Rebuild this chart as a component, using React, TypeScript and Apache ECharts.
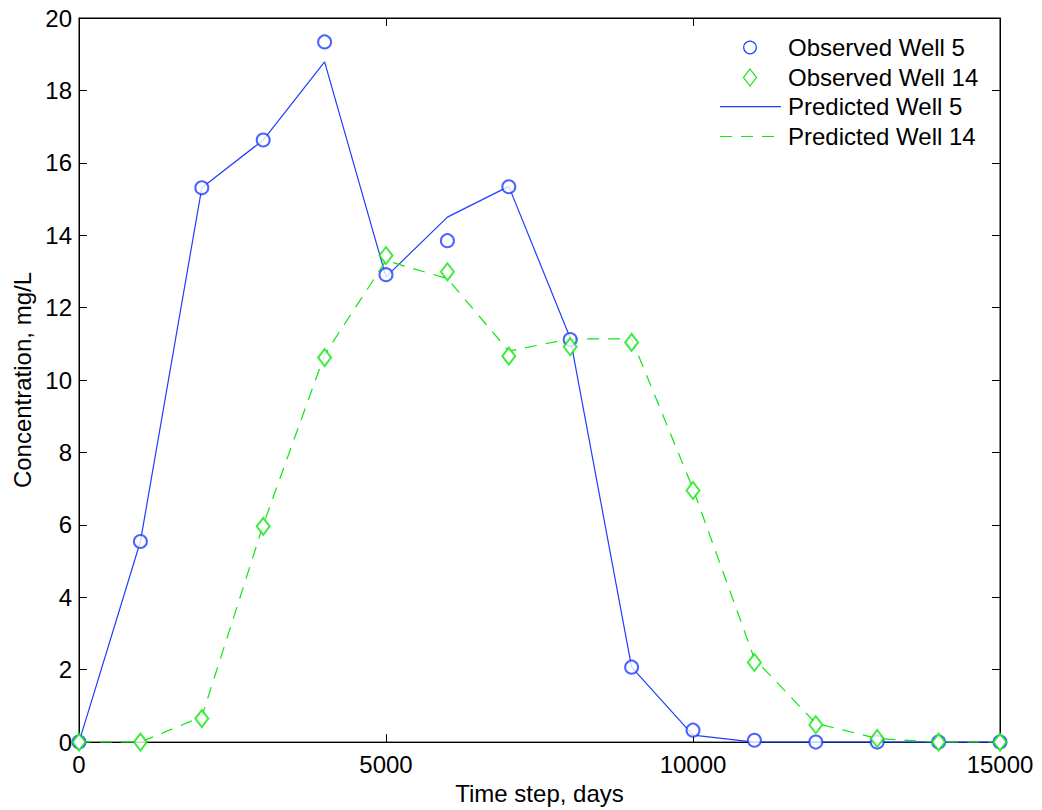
import React, { useEffect, useRef } from "react";
import * as echarts from "echarts";

const timeSteps = [0, 1000, 2000, 3000, 4000, 5000, 6000, 7000, 8000, 9000, 10000, 11000, 12000, 13000, 14000, 15000];
const observedWell5 = [0, 5.54, 15.31, 16.63, 19.34, 12.91, 13.85, 15.34, 11.12, 2.07, 0.33, 0.05, 0, 0, 0, 0];
const observedWell14 = [0, 0, 0.65, 5.96, 10.62, 13.44, 12.99, 10.66, 10.92, 11.04, 6.95, 2.2, 0.48, 0.1, 0, 0];
const predictedWell5 = [0, 5.54, 15.31, 16.63, 18.79, 12.85, 14.5, 15.35, 11.16, 2.07, 0.19, 0, 0, 0, 0, 0];
const predictedWell14 = [0, 0, 0.7, 6.0, 10.7, 13.3, 12.8, 10.8, 11.14, 11.14, 7.0, 2.3, 0.52, 0.1, 0, 0];
const xTicks = [0, 5000, 10000, 15000];
const yTicks = [0, 2, 4, 6, 8, 10, 12, 14, 16, 18, 20];
const legendLabels = ["Observed Well 5", "Observed Well 14", "Predicted Well 5", "Predicted Well 14"];

const BLUE = "#1f3dff";
const GREEN = "#10e610";
const FONT = "Liberation Sans";
const FS = 24;
const DASH = [12, 9];

const pairs = (ys: number[]) => timeSteps.map((x, i) => [x, ys[i]]);

export default function App() {
  const ref = useRef<HTMLDivElement>(null);
  useEffect(() => {
    if (!ref.current) return;
    const chart = echarts.init(ref.current, null, { renderer: "svg" });
    const tickStyle = { show: true, inside: true, length: 8, lineStyle: { color: "#000", width: 1 } };
    const rowY = [47.5, 77.5, 106.7, 136.5];
    const legendX = 720;
    const textX = 788;
    const legendGraphics: any[] = [
      {
        type: "circle",
        shape: { cx: legendX + 30, cy: rowY[0], r: 6.3 },
        style: { fill: "none", stroke: BLUE, lineWidth: 1.2 },
      },
      {
        type: "polygon",
        shape: {
          points: [
            [legendX + 30, rowY[1] - 8.5],
            [legendX + 36.5, rowY[1]],
            [legendX + 30, rowY[1] + 8.5],
            [legendX + 23.5, rowY[1]],
          ],
        },
        style: { fill: "none", stroke: GREEN, lineWidth: 1.2 },
      },
      {
        type: "line",
        shape: { x1: legendX, y1: rowY[2], x2: legendX + 61, y2: rowY[2] },
        style: { stroke: BLUE, lineWidth: 1.2 },
      },
      {
        type: "line",
        shape: { x1: legendX, y1: rowY[3], x2: legendX + 61, y2: rowY[3] },
        style: { stroke: GREEN, lineWidth: 1.2, lineDash: DASH },
      },
      ...legendLabels.map((t, i) => ({
        type: "text",
        x: textX,
        y: rowY[i],
        style: { text: t, fontFamily: FONT, fontSize: FS, fill: "#000", verticalAlign: "middle", align: "left" },
      })),
    ];
    chart.setOption({
      animation: false,
      backgroundColor: "#fff",
      grid: { left: 79, right: 42, top: 18, bottom: 67, show: true, borderColor: "#000", borderWidth: 1, backgroundColor: "transparent" },
      graphic: legendGraphics,
      xAxis: [
        {
          type: "value",
          min: 0,
          max: 15000,
          interval: 5000,
          name: "Time step, days",
          nameLocation: "middle",
          nameGap: 38,
          nameTextStyle: { fontFamily: FONT, fontSize: FS, color: "#000" },
          axisLine: { show: true, onZero: false, lineStyle: { color: "#000", width: 1 } },
          axisTick: tickStyle,
          axisLabel: {
            fontFamily: FONT,
            fontSize: FS,
            color: "#000",
            margin: 10,
            formatter: (v: number) => (xTicks.includes(v) ? String(v) : ""),
          },
          splitLine: { show: false },
        },
        {
          type: "value",
          position: "top",
          min: 0,
          max: 15000,
          interval: 5000,
          axisLine: { show: true, onZero: false, lineStyle: { color: "#000" } },
          axisTick: tickStyle,
          axisLabel: { show: false },
          splitLine: { show: false },
        },
      ],
      yAxis: [
        {
          type: "value",
          min: 0,
          max: 20,
          interval: 2,
          name: "Concentration, mg/L",
          nameLocation: "middle",
          nameGap: 42,
          nameTextStyle: { fontFamily: FONT, fontSize: FS, color: "#000" },
          axisLine: { show: true, onZero: false, lineStyle: { color: "#000", width: 1 } },
          axisTick: tickStyle,
          axisLabel: {
            fontFamily: FONT,
            fontSize: FS,
            color: "#000",
            margin: 7,
            formatter: (v: number) => (yTicks.includes(v) ? String(v) : ""),
          },
          splitLine: { show: false },
        },
        {
          type: "value",
          position: "right",
          min: 0,
          max: 20,
          interval: 2,
          axisLine: { show: true, onZero: false, lineStyle: { color: "#000" } },
          axisTick: tickStyle,
          axisLabel: { show: false },
          splitLine: { show: false },
        },
      ],
      series: [
        {
          name: "Predicted Well 5",
          type: "line",
          data: pairs(predictedWell5),
          symbol: "none",
          lineStyle: { color: BLUE, width: 1.2 },
          itemStyle: { color: BLUE },
          z: 2,
        },
        {
          name: "Predicted Well 14",
          type: "line",
          data: pairs(predictedWell14),
          symbol: "none",
          lineStyle: { color: GREEN, width: 1.2, type: DASH },
          itemStyle: { color: GREEN },
          z: 2,
        },
        {
          name: "Observed Well 5",
          type: "scatter",
          data: pairs(observedWell5),
          symbol: "emptyCircle",
          symbolSize: 13,
          itemStyle: { color: BLUE, borderColor: BLUE, borderWidth: 1.2 },
          z: 3,
        },
        {
          name: "Observed Well 14",
          type: "scatter",
          data: pairs(observedWell14),
          symbol: "emptyDiamond",
          symbolSize: [13, 17],
          itemStyle: { color: GREEN, borderColor: GREEN, borderWidth: 1.2 },
          z: 3,
        },
      ],
    });
    return () => chart.dispose();
  }, []);
  return <div ref={ref} style={{ position: "fixed", left: 0, top: 0, width: 1042, height: 810 }} />;
}
